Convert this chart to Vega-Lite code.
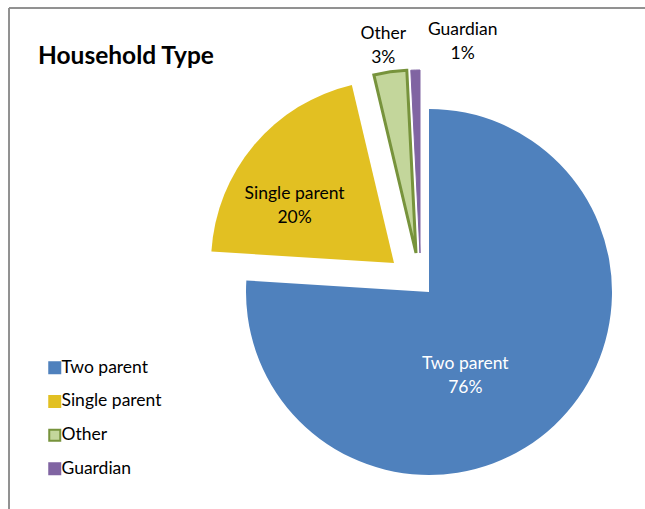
{
  "$schema": "https://vega.github.io/schema/vega-lite/v6.json",
  "width": 636,
  "height": 501,
  "autosize": "none",
  "padding": {"left": 9, "top": 8, "right": 0, "bottom": 0},
  "background": "white",
  "config": {
    "view": {"stroke": null},
    "font": "Lato",
    "text": {"font": "Lato", "fontSize": 17.5, "lineBreak": "\n", "lineHeight": 24, "baseline": "middle", "align": "center"},
    "legend": {
      "orient": "none", "legendX": 37, "legendY": 351, "padding": 0,
      "symbolType": "square", "symbolSize": 121, "symbolStrokeWidth": 2,
      "labelFont": "Lato", "labelFontSize": 17.5, "labelColor": "black",
      "labelOffset": -2, "rowPadding": 13.7
    }
  },
  "title": {
    "text": "Household Type", "anchor": "start", "orient": "top", "frame": "group",
    "font": "Lato", "fontSize": 24.5, "fontWeight": "bold", "color": "black",
    "baseline": "middle", "offset": 0, "dx": 29, "dy": 74
  },
  "data": {
    "values": [
      {"type": "Two parent", "value": 76.0, "order": 1, "label": "Two parent\n76%"},
      {"type": "Single parent", "value": 20.3, "order": 2, "label": "Single parent\n20%"},
      {"type": "Other", "value": 2.9, "order": 3, "label": "Other\n3%"},
      {"type": "Guardian", "value": 0.8, "order": 4, "label": "Guardian\n1%"}
    ]
  },
  "transform": [
    {"stack": "value", "groupby": [], "sort": [{"field": "order", "order": "ascending"}], "as": ["v0", "v1"]}
  ],
  "encoding": {
    "color": {
      "field": "type", "type": "nominal", "title": null,
      "scale": {"domain": ["Two parent", "Single parent", "Other", "Guardian"], "range": ["#4F81BD", "#E2C022", "#C3D69B", "#8064A2"]}
    },
    "stroke": {
      "field": "type", "type": "nominal", "title": null,
      "scale": {"domain": ["Two parent", "Single parent", "Other", "Guardian"], "range": ["#4F81BD", "#E2C022", "#77933C", "#8064A2"]}
    }
  },
  "layer": [
    {
      "mark": {"type": "rect", "fill": "transparent", "stroke": "#8a8a8a", "strokeWidth": 1, "strokeDash": [636, 1137, 501, 0]},
      "encoding": {"color": {"value": "transparent"}, "stroke": {"value": "#8a8a8a"}}
    },
    {
      "transform": [{"filter": "datum.type === 'Two parent'"}],
      "mark": {"type": "arc", "outerRadius": 183, "xOffset": 102, "yOffset": 33.5, "strokeWidth": 0},
      "encoding": {"theta": {"field": "v0", "type": "quantitative", "scale": {"domain": [0, 100]}}, "theta2": {"field": "v1"}}
    },
    {
      "transform": [{"filter": "datum.type === 'Single parent'"}],
      "mark": {"type": "arc", "outerRadius": 183, "xOffset": 67, "yOffset": 4.5, "strokeWidth": 0},
      "encoding": {"theta": {"field": "v0", "type": "quantitative", "scale": {"domain": [0, 100]}}, "theta2": {"field": "v1"}}
    },
    {
      "transform": [{"filter": "datum.type === 'Other'"}],
      "mark": {"type": "arc", "outerRadius": 183, "xOffset": 89, "yOffset": -5.5, "strokeWidth": 3, "strokeJoin": "miter"},
      "encoding": {"theta": {"field": "v0", "type": "quantitative", "scale": {"domain": [0, 100]}}, "theta2": {"field": "v1"}}
    },
    {
      "transform": [{"filter": "datum.type === 'Guardian'"}],
      "mark": {"type": "arc", "outerRadius": 183, "xOffset": 93, "yOffset": -5.5, "strokeWidth": 1},
      "encoding": {"theta": {"field": "v0", "type": "quantitative", "scale": {"domain": [0, 100]}}, "theta2": {"field": "v1"}}
    },
    {
      "mark": {"type": "text", "radius": 110, "xOffset": 102, "yOffset": 33.5, "dx": -39, "dy": -8},
      "encoding": {
        "theta": {"field": "value", "type": "quantitative", "stack": true, "scale": {"domain": [0, 100]}},
        "order": {"field": "order"}, "detail": {"field": "type"},
        "text": {"condition": {"test": "datum.type === 'Two parent'", "field": "label"}, "value": ""},
        "color": {"value": "white"}, "stroke": {"value": null}
      }
    },
    {
      "mark": {"type": "text", "radius": 113, "xOffset": 67, "yOffset": 4.5, "dx": -13, "dy": 4},
      "encoding": {
        "theta": {"field": "value", "type": "quantitative", "stack": true, "scale": {"domain": [0, 100]}},
        "order": {"field": "order"}, "detail": {"field": "type"},
        "text": {"condition": {"test": "datum.type === 'Single parent'", "field": "label"}, "value": ""},
        "color": {"value": "black"}, "stroke": {"value": null}
      }
    },
    {
      "mark": {"type": "text", "radius": 211, "xOffset": 89, "yOffset": -5.5, "dx": -3, "dy": -10},
      "encoding": {
        "theta": {"field": "value", "type": "quantitative", "stack": true, "scale": {"domain": [0, 100]}},
        "order": {"field": "order"}, "detail": {"field": "type"},
        "text": {"condition": {"test": "datum.type === 'Other'", "field": "label"}, "value": ""},
        "color": {"value": "black"}, "stroke": {"value": null}
      }
    },
    {
      "mark": {"type": "text", "radius": 212, "xOffset": 93, "yOffset": -5.5, "dx": 48, "dy": -11},
      "encoding": {
        "theta": {"field": "value", "type": "quantitative", "stack": true, "scale": {"domain": [0, 100]}},
        "order": {"field": "order"}, "detail": {"field": "type"},
        "text": {"condition": {"test": "datum.type === 'Guardian'", "field": "label"}, "value": ""},
        "color": {"value": "black"}, "stroke": {"value": null}
      }
    }
  ]
}
